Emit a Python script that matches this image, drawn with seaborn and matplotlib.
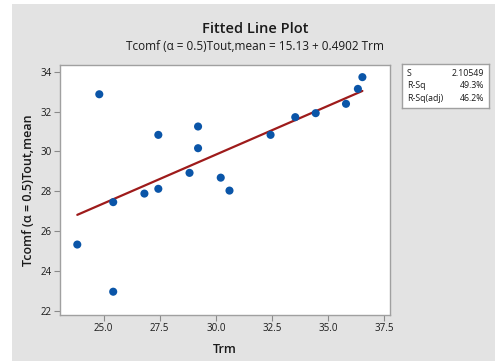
import matplotlib
matplotlib.use("Agg")
import matplotlib.pyplot as plt
import seaborn as sns
import numpy as np
import pandas as pd
from matplotlib.patches import Rectangle

# Data
trm = [23.83, 24.81, 25.43, 25.43, 26.82, 27.44, 27.44, 28.83, 29.21, 29.21,
       30.22, 30.61, 32.44, 33.54, 34.45, 35.80, 36.33, 36.53]
tcomf = [25.32, 32.87, 27.45, 22.95, 27.88, 30.83, 28.12, 28.92, 31.25, 30.16,
         28.68, 28.03, 30.83, 31.72, 31.92, 32.39, 33.14, 33.73]
intercept = 15.13
slope = 0.4902
stat_labels = ["S", "R-Sq", "R-Sq(adj)"]
stat_values = ["2.10549", "49.3%", "46.2%"]
x_ticks = [25.0, 27.5, 30.0, 32.5, 35.0, 37.5]
y_ticks = [22, 24, 26, 28, 30, 32, 34]

df = pd.DataFrame({"Trm": trm, "Tcomf": tcomf})
fit_x = np.array([min(trm), max(trm)])
fit_df = pd.DataFrame({"Trm": fit_x, "Fit": intercept + slope * fit_x})

sns.set_style("white")
plt.rcParams["font.family"] = ["Open Sans", "DejaVu Sans"]

W, H = 495, 362
fig = plt.figure(figsize=(W / 100, H / 100), dpi=100)
fig.patch.set_facecolor("white")
bg = Rectangle((12 / W, 1 / H), 1 - 12 / W, 1 - 5 / H, transform=fig.transFigure,
               facecolor="#e3e3e3", edgecolor="none", zorder=-10)
fig.patches.append(bg)

ax = fig.add_axes([60 / W, 1 - 315 / H, 330 / W, 250 / H])
ax.set_facecolor("white")
sns.lineplot(data=fit_df, x="Trm", y="Fit", ax=ax, color="#9e1b1b", linewidth=1.6)
sns.scatterplot(data=df, x="Trm", y="Tcomf", ax=ax, color="#0a55a8", s=34,
                edgecolor="none", zorder=3)

ax.set_xlim(23.06, 37.76)
ax.set_ylim(21.78, 34.34)
ax.set_xticks(x_ticks)
ax.set_xticklabels([f"{t:.1f}" for t in x_ticks])
ax.set_yticks(y_ticks)
ax.tick_params(axis="both", direction="out", length=4, width=0.8, color="#8a8a8a",
               labelsize=7, labelcolor="#1a1a1a", pad=2, bottom=True, left=True)
for s in ax.spines.values():
    s.set_color("#a0a0a0")
    s.set_linewidth(1.0)
ax.set_xlabel("Trm", fontsize=9, color="#1a1a1a", labelpad=6, fontweight="semibold")
ax.set_ylabel("Tcomf (α = 0.5)Tout,mean", fontsize=9, color="#1a1a1a", labelpad=4,
              fontweight="semibold")

fig.text(255 / W, 1 - 29 / H, "Fitted Line Plot", ha="center", va="center",
         fontsize=10.5, color="#1a1a1a", fontweight="semibold")
fig.text(255 / W, 1 - 46 / H, "Tcomf (α = 0.5)Tout,mean = 15.13 + 0.4902 Trm",
         ha="center", va="center", fontsize=8.5, color="#1a1a1a")

# statistics box
bx = fig.add_axes([402 / W, 1 - 108 / H, 87 / W, 44 / H])
bx.set_facecolor("white")
bx.set_xticks([])
bx.set_yticks([])
for s in bx.spines.values():
    s.set_color("#a0a0a0")
    s.set_linewidth(1.0)
bx.set_xlim(402, 489)
bx.set_ylim(108, 64)
for i, (lab, val) in enumerate(zip(stat_labels, stat_values)):
    yy = 73.5 + i * 12.5
    bx.text(407, yy, lab, ha="left", va="center", fontsize=6.3, color="#1a1a1a")
    bx.text(484, yy, val, ha="right", va="center", fontsize=6.3, color="#1a1a1a")

fig.savefig("out.png", dpi=100, facecolor=fig.get_facecolor())
